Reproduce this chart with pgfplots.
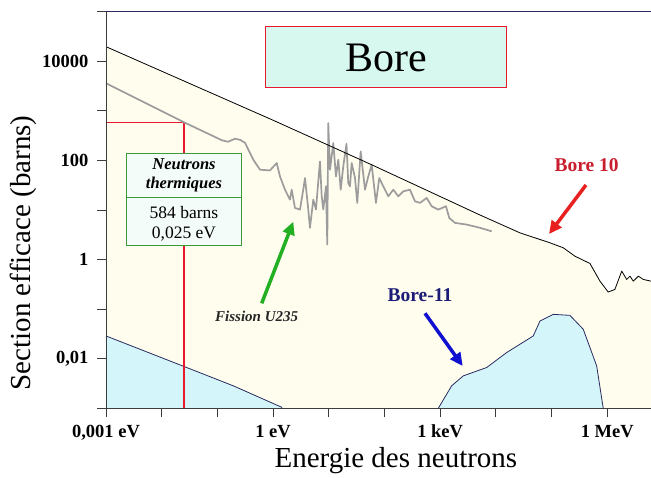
\documentclass[border=0pt]{standalone}
\usepackage{fontspec}
\setmainfont{Liberation Serif}
\usepackage{pgfplots}
\pgfplotsset{compat=1.18}
\usetikzlibrary{arrows.meta}
\definecolor{cream}{HTML}{FFFDEE}
\definecolor{lblue}{HTML}{D4F6FA}
\definecolor{navyline}{HTML}{2A2A60}
\definecolor{axisgray}{HTML}{3C3C3C}
\definecolor{thermred}{HTML}{E8182E}
\definecolor{curvegray}{HTML}{9C9C9C}
\definecolor{titlefill}{HTML}{D7F8EE}
\definecolor{boxfill}{HTML}{F4FCFA}
\definecolor{boxgreen}{HTML}{3A9A3A}
\definecolor{arrgreen}{HTML}{22B022}
\definecolor{arrred}{HTML}{E82020}
\definecolor{arrblue}{HTML}{1010D0}
\definecolor{txtred}{HTML}{C81E2E}
\definecolor{txtnavy}{HTML}{1C1C78}
\begin{document}
\begin{tikzpicture}
\begin{axis}[
  scale only axis, width=545pt, height=396.6pt,
  xmode=log, ymode=log,
  xmin=1e-3, xmax=6.1e6, ymin=1e-3, ymax=1e5,
  axis lines*=left, axis line style={-, draw=axisgray, line width=0.8pt},
  tick align=outside, major tick length=9pt, tick style={axisgray, line width=0.8pt},
  xminorticks=false, yminorticks=false,
  xtick={1e-3,1e-2,1e-1,1,1e1,1e2,1e3,1e4,1e5,1e6},
  xticklabels={{0,001 eV},{},{},{1 eV},{},{},{1 keV},{},{},{1 MeV}},
  ytick={1e-3,1e-2,1e-1,1,1e1,1e2,1e3,1e4,1e5},
  yticklabels={{},{0,01},{},{1},{},{100},{},{10000},{}},
  ticklabel style={font=\fontsize{18.5}{18.5}\selectfont\bfseries},
  yticklabel style={xshift=-5pt},
  xticklabel style={yshift=-4pt},
  xlabel={Energie des neutrons}, ylabel={Section efficace (barns)},
  label style={font=\fontsize{29}{29}\selectfont},
  xlabel style={at={(axis description cs:0.532,-0.133)}, anchor=center},
  ylabel style={at={(axis description cs:-0.152,0.392)}, anchor=center},
  axis on top,
]
% cream area under Bore 10
\addplot[draw=none, fill=cream] coordinates {
(1e-3,19700) (1,647) (58.9,81.8) (991,18.8) (5180,7.93) (2.71e4,3.46) (9.35e4,2.18)
(1.62e5,1.73) (2.63e5,1.17) (4.89e5,0.834) (7.40e5,0.367) (1.04e6,0.221) (1.37e6,0.250)
(1.82e6,0.585) (2.23e6,0.398) (2.56e6,0.463) (2.93e6,0.367) (3.61e6,0.463) (4.43e6,0.398)
(6.1e6,0.367) (6.1e6,5e-4) (1e-3,5e-4)};
% Bore-11 fills
\addplot[draw=none, fill=lblue] coordinates {
(1e-3,0.0288) (0.0281,0.00665) (0.193,0.00284) (1.43,0.00105) (1.6,5e-4) (1e-3,5e-4)};
\addplot[navyline, line width=0.8pt] coordinates {
(1e-3,0.0288) (0.0281,0.00665) (0.193,0.00284) (1.43,0.00105) (1.6,5e-4)};
\addplot[draw=none, fill=lblue] coordinates {
(880,5e-4) (925,0.001) (1607,0.00284) (2600,0.00451) (6839,0.00665) (15630,0.01334)
(46900,0.0288) (61940,0.0577) (107400,0.0785) (213800,0.0750) (370700,0.0393)
(645700,0.00716) (847000,0.001) (870000,5e-4)};
\addplot[navyline, line width=0.8pt] coordinates {
(880,5e-4) (925,0.001) (1607,0.00284) (2600,0.00451) (6839,0.00665) (15630,0.01334)
(46900,0.0288) (61940,0.0577) (107400,0.0785) (213800,0.0750) (370700,0.0393)
(645700,0.00716) (847000,0.001) (870000,5e-4)};
% thermal neutrons marker
\addplot[thermred, line width=1.5pt] coordinates {(1e-3,584) (0.025,584)};
\addplot[thermred, line width=1.5pt] coordinates {(0.025,584) (0.025,1e-3)};
% U235 fission
\addplot[curvegray, line width=1.7pt, line join=round] coordinates {
(0.001,3606) (0.025,590) (0.121,254.7) (0.155,237.7) (0.207,273.5) (0.255,260.6)
(0.313,227) (0.442,103.3) (0.582,65.0) (0.879,62.9) (1.161,88.7) (1.330,47.6)
(1.637,25.7) (2.009,16.2) (2.158,25.7) (2.472,11.0) (3.041,10.2) (3.483,25.7)
(3.741,44.3) (4.285,10.2) (4.592,4.37) (5.272,16.2) (5.888,10.2) (6.745,65.0)
(6.950,95.5) (7.464,18.9) (7.962,10.2) (8.913,30.0) (9.397,2.01) (9.795,566)
(10.52,65.0) (12.05,224) (13.46,47.6) (14.83,103.3) (16.37,25.7) (18.2,75.7)
(20.8,217) (22.39,35.1) (24.04,30.0) (25.76,88.7) (29.5,44.9) (32.5,13.9)
(37.4,152) (44.7,25.7) (51.2,47.6) (58.9,81.8) (70.3,13.9) (80.7,44.3)
(95.1,30.0) (117,18.9) (144,25.7) (177,18.9) (218,23.8) (287,25.7) (353,15.0)
(434,13.9) (573,17.5) (703,11.9) (925,10.2) (1271,11.9) (1456,6.93) (1845,5.50)
(2992,5.08) (5188,4.37) (8414,3.72)};
% Bore 10
\addplot[black, line width=0.8pt, line join=round] coordinates {
(1e-3,19700) (1,647) (58.9,81.8) (991,18.8) (5180,7.93) (2.71e4,3.46) (9.35e4,2.18)
(1.62e5,1.73) (2.63e5,1.17) (4.89e5,0.834) (7.40e5,0.367) (1.04e6,0.221) (1.37e6,0.250)
(1.82e6,0.585) (2.23e6,0.398) (2.56e6,0.463) (2.93e6,0.367) (3.61e6,0.463) (4.43e6,0.398)
(6.1e6,0.367)};
\end{axis}
% annotations, in pixel coordinates of the reference
\begin{scope}[x=1pt, y=-1pt, shift={(-106pt,408.3pt)}]
  \draw[navyline, line width=0.9pt] (106,11.7) -- (651,11.7);
  % title box
  \draw[thermred, line width=0.9pt, fill=titlefill] (265,26.7) rectangle (506.7,87.3);
  \node[anchor=base, inner sep=0pt, font=\fontsize{42}{42}\selectfont] at (386,71.7) {Bore};
  % thermal box
  \draw[boxgreen, line width=0.9pt, fill=boxfill] (126,153.3) rectangle (241.7,245);
  \draw[boxgreen, line width=0.9pt] (126,197.3) -- (241.7,197.3);
  \node[anchor=base, inner sep=0pt, font=\fontsize{16.5}{16.5}\selectfont\bfseries\itshape] at (184,169.3) {Neutrons};
  \node[anchor=base, inner sep=0pt, font=\fontsize{16.5}{16.5}\selectfont\bfseries\itshape] at (184,188.3) {thermiques};
  \node[anchor=base, inner sep=0pt, font=\fontsize{17.5}{17.5}\selectfont] at (184,218.3) {584 barns};
  \node[anchor=base, inner sep=0pt, font=\fontsize{17.5}{17.5}\selectfont] at (184,238.3) {0,025 eV};
  % arrows
  \draw[arrgreen, line width=3.5pt, -{Triangle[length=13pt,width=12pt]}] (261.7,303.3) -- (293.3,221.7);
  \draw[arrred, line width=3.5pt, -{Triangle[length=13pt,width=12pt]}] (586,185) -- (549,234);
  \draw[arrblue, line width=3.5pt, -{Triangle[length=13pt,width=12pt]}] (425,313.3) -- (462.7,366);
  \node[anchor=base, inner sep=0pt, text=black!85, font=\fontsize{15}{15}\selectfont\bfseries\itshape] at (256.7,321.7) {Fission U235};
  \node[anchor=base, inner sep=0pt, text=txtred, font=\fontsize{19.5}{19.5}\selectfont\bfseries] at (586.7,171.7) {Bore 10};
  \node[anchor=base, inner sep=0pt, text=txtnavy, font=\fontsize{19.5}{19.5}\selectfont\bfseries] at (420,301.7) {Bore-11};
  \pgfresetboundingbox
  \path[use as bounding box] (0,0) rectangle (651,477);
\end{scope}
\end{tikzpicture}
\end{document}
